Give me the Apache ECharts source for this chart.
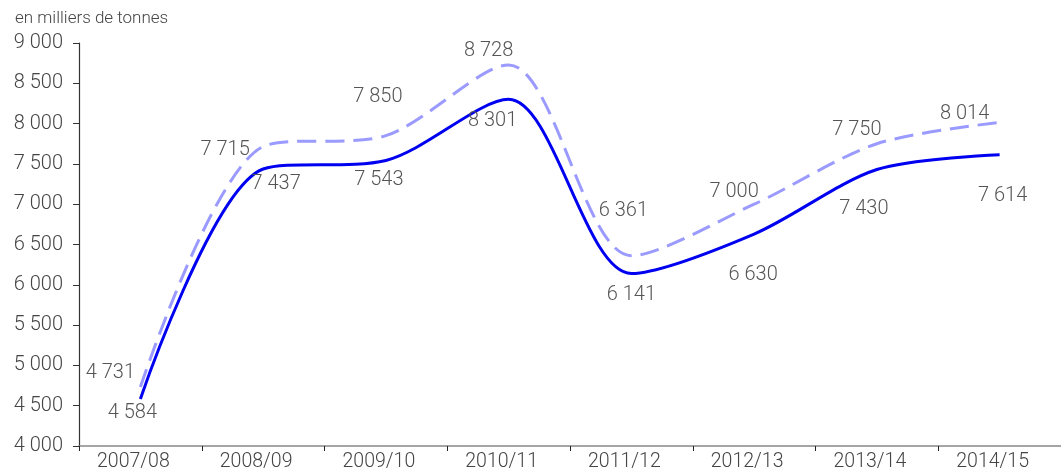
<!DOCTYPE html>
<html lang="fr">
<head>
	<meta charset="UTF-8">
	<title>Production</title>
	<script src="https://cdn.jsdelivr.net/npm/echarts@6/dist/echarts.min.js" type="text/javascript"></script>
	<style>
		html,body{margin:0;padding:0;background:#fff;}
		#chart{width:1061px;height:474px;}
	</style>
</head>
<body>
<div id="chart"></div>
<script>
	// données
	var categories=["2007/08","2008/09","2009/10","2010/11","2011/12","2012/13","2013/14","2014/15"];
	var serieTirets=[4731,7715,7850,8728,6361,7000,7750,8014];
	var serieContinue=[4584,7437,7543,8301,6141,6630,7430,7614];
	// décalage des étiquettes (px) par point
	var offTirets=[[-30,-14],[-38,3],[-8,-39],[-20,-14],[-8,-45],[-20,-12],[-20,-14],[-35,-8]];
	var offContinue=[[-8,14],[13,15],[-7,20],[-16,22],[0,22],[-1,41],[-13,39],[3,41]];

	var police='Roboto';
	function fmt(v){
		var s=String(v);
		return s.length>3 ? s.slice(0,s.length-3)+' '+s.slice(-3) : s;
	}
	function points(vals,offs){
		var arr=[];
		for(var i=0;i<vals.length;i++){
			arr.push({value:vals[i],label:{offset:offs[i]}});
		}
		return arr;
	}
	var labelStyle={
		show:true,
		position:'inside',
		color:'#555',
		fontFamily:police,
		fontWeight:300,
		fontSize:20,
		formatter:function(p){return fmt(p.value);}
	};

	var myChart=echarts.init(document.getElementById('chart'));
	var option={
		animation:false,
		title:{
			text:'en milliers de tonnes',
			left:10,
			top:5,
			textStyle:{fontFamily:police,fontWeight:300,fontSize:17,color:'#444'}
		},
		grid:{left:79,top:43,bottom:28,width:1008},
		xAxis:{
			type:'category',
			data:categories,
			boundaryGap:true,
			axisLine:{lineStyle:{color:'#888',width:1.5}},
			axisTick:{show:true,length:5,lineStyle:{color:'#222'}},
			axisLabel:{color:'#444',fontFamily:police,fontWeight:300,fontSize:19.5,margin:6,
				padding:[0,14,0,0]}
		},
		yAxis:{
			type:'value',
			min:4000,
			max:9000,
			interval:500,
			axisLine:{show:true,lineStyle:{color:'#333',width:1.2}},
			axisTick:{show:true,length:6,lineStyle:{color:'#333'}},
			splitLine:{show:false},
			axisLabel:{color:'#444',fontFamily:police,fontWeight:300,fontSize:20,margin:16,
				formatter:function(v){return fmt(v);}}
		},
		series:[
			{
				name:'tirets',
				type:'line',
				smooth:0.3,
				symbol:'circle',
				symbolSize:0,
				showSymbol:true,
				lineStyle:{color:'#9a9aff',width:3,type:[19,9]},
				itemStyle:{color:'#9a9aff'},
				label:labelStyle,
				data:points(serieTirets,offTirets)
			},
			{
				name:'continue',
				type:'line',
				smooth:0.3,
				symbol:'circle',
				symbolSize:0,
				showSymbol:true,
				lineStyle:{color:'#0000f0',width:3},
				itemStyle:{color:'#0000f0'},
				label:labelStyle,
				data:points(serieContinue,offContinue)
			}
		]
	};
	myChart.setOption(option);
</script>
</body>
</html>
